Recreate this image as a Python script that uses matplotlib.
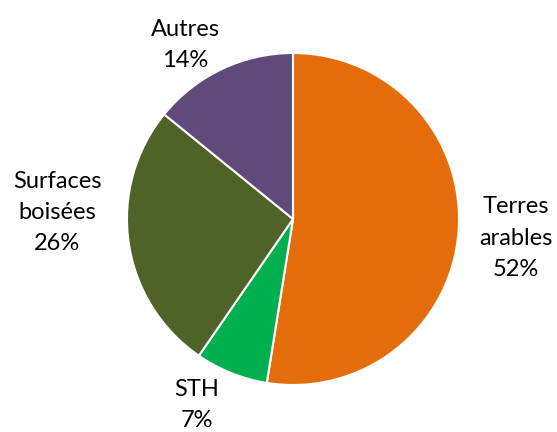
import matplotlib
matplotlib.use("Agg")
import matplotlib.pyplot as plt

categories = ["Terres\narables", "STH", "Surfaces\nboisées", "Autres"]
values = [52, 7, 26, 14]
colors = ["#E46C0A", "#00B050", "#4F6228", "#604A7B"]
label_pos = [(1.345, -0.115), (-0.58, -1.12), (-1.42, 0.04), (-0.65, 1.05)]

plt.rcParams['font.family'] = ['Lato', 'DejaVu Sans']

fig = plt.figure(figsize=(5.57, 4.32), dpi=100)
ax = fig.add_axes([0, 0, 1, 1])
ax.pie(values, colors=colors, startangle=90, counterclock=False,
       radius=1.0, wedgeprops=dict(edgecolor="white", linewidth=1.5))
for cat, v, (x, y) in zip(categories, values, label_pos):
    ax.text(x, y, f"{cat}\n{v}%", ha="center", va="center", fontsize=17,
            color="#000000", linespacing=1.6)
ax.set_xlim(-293/166, (557-293)/166)
ax.set_ylim(-213/166, (432-213)/166)
ax.set_aspect("auto")
ax.axis("off")
fig.savefig("out.png", dpi=100)
